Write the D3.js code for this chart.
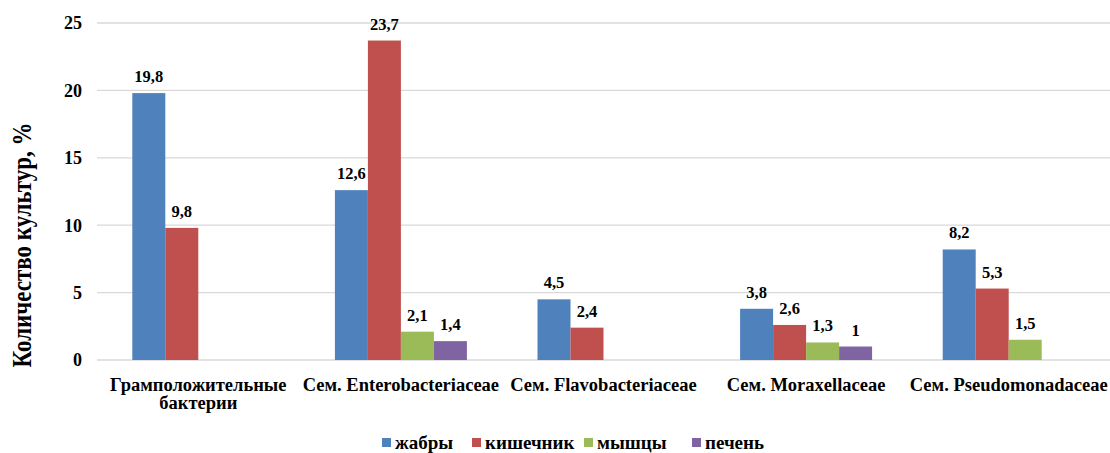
<!DOCTYPE html>
<html>
<head>
<meta charset="utf-8">
<script src="https://cdn.jsdelivr.net/npm/d3@7"></script>
<style>
body { margin: 0; background: #fff; }
</style>
</head>
<body>
<div id="chart"></div>
<script>
// data
var categories = [["Грамположительные", "бактерии"], ["Сем. Enterobacteriaceae"], ["Сем. Flavobacteriaceae"], ["Сем. Moraxellaceae"], ["Сем. Pseudomonadaceae"]];
var seriesNames = ["жабры", "кишечник", "мышцы", "печень"];
var seriesColors = ["#4f81bd", "#c0504d", "#9bbb59", "#8064a2"];
var zhabry   = [19.8, 12.6, 4.5, 3.8, 8.2];
var kishech  = [9.8, 23.7, 2.4, 2.6, 5.3];
var myshcy   = [null, 2.1, null, 1.3, 1.5];
var pechen   = [null, 1.4, null, 1.0, null];
var yTicks = [0, 5, 10, 15, 20, 25];

var series = [zhabry, kishech, myshcy, pechen];

var W = 1110, H = 453;
var margin = {top: 23, right: 0, bottom: 93, left: 97};

var svg = d3.select("#chart").append("svg")
  .attr("width", W).attr("height", H)
  .attr("font-family", "'Liberation Serif', 'Times New Roman', serif")
  .attr("font-weight", "bold");

var y = d3.scaleLinear().domain([0, 25]).range([H - margin.bottom, margin.top]);
var x0 = d3.scaleBand().domain(d3.range(categories.length))
  .range([margin.left, W - margin.right]);
var x1 = d3.scaleBand().domain(d3.range(seriesNames.length))
  .range([0, x0.bandwidth()]).paddingOuter(1.07);

// gridlines
svg.append("g").selectAll("line").data(yTicks).join("line")
  .attr("x1", margin.left).attr("x2", W - margin.right)
  .attr("y1", d => y(d)).attr("y2", d => y(d))
  .attr("stroke", "#d9d9d9").attr("stroke-width", 1.3);

// y tick labels
svg.append("g").selectAll("text").data(yTicks).join("text")
  .attr("x", 82).attr("y", d => y(d)).attr("dy", "0.35em")
  .attr("text-anchor", "end").attr("font-size", 18)
  .text(d => d);

// y title
svg.append("text")
  .attr("transform", "translate(31,245) rotate(-90) scale(1,1.15)")
  .attr("text-anchor", "middle").attr("font-size", 23)
  .text("Количество культур, %");

// bars
var fmt = v => String(v).replace(".", ",");
series.forEach(function(vals, s) {
  var g = svg.append("g");
  var pts = vals.map((v, i) => ({v: v, i: i})).filter(d => d.v != null);
  g.selectAll("rect").data(pts).join("rect")
    .attr("x", d => x0(d.i) + x1(s))
    .attr("width", x1.bandwidth())
    .attr("y", d => y(d.v))
    .attr("height", d => y(0) - y(d.v))
    .attr("fill", seriesColors[s]);
  g.selectAll("text").data(pts).join("text")
    .attr("x", d => x0(d.i) + x1(s) + x1.bandwidth() / 2)
    .attr("y", d => y(d.v) - 11)
    .attr("text-anchor", "middle").attr("font-size", 16.5)
    .text(d => fmt(d.v));
});

// category labels
var cat = svg.append("g").selectAll("text").data(categories).join("text")
  .attr("x", (d, i) => x0(i) + x0.bandwidth() / 2)
  .attr("y", 391)
  .attr("text-anchor", "middle").attr("font-size", 18.5);
cat.selectAll("tspan").data(d => d).join("tspan")
  .attr("x", function() { return this.parentNode.getAttribute("x"); })
  .attr("dy", (d, i) => i === 0 ? 0 : 18)
  .text(d => d);

// legend
var legX = [382, 472, 584, 692];
var leg = svg.append("g").selectAll("g").data(seriesNames).join("g")
  .attr("transform", (d, i) => "translate(" + legX[i] + ",443)");
leg.append("rect").attr("x", 0).attr("y", -5).attr("width", 9).attr("height", 9)
  .attr("fill", (d, i) => seriesColors[i]);
leg.append("text").attr("x", 13).attr("dy", "0.32em")
  .attr("font-size", 19).text(d => d);
</script>
</body>
</html>
